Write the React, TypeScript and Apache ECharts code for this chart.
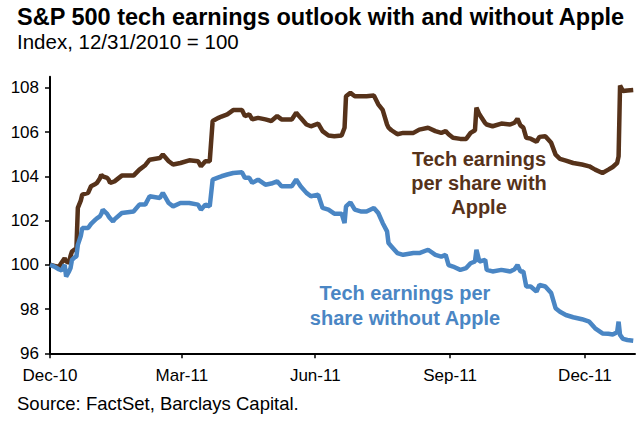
import React, { useEffect, useRef } from "react";
import * as echarts from "echarts";

const dates = [
  "2010-12-31", "2011-01-03", "2011-01-06", "2011-01-08", "2011-01-10", "2011-01-11", "2011-01-13", "2011-01-14",
  "2011-01-15", "2011-01-17", "2011-01-18", "2011-01-19", "2011-01-21", "2011-01-22", "2011-01-26", "2011-01-28",
  "2011-01-31", "2011-02-01", "2011-02-03", "2011-02-04", "2011-02-05", "2011-02-08", "2011-02-09", "2011-02-10",
  "2011-02-12", "2011-02-13", "2011-02-18", "2011-02-26", "2011-03-02", "2011-03-06", "2011-03-09", "2011-03-16",
  "2011-03-18", "2011-03-22", "2011-03-25", "2011-03-30", "2011-04-05", "2011-04-11", "2011-04-13", "2011-04-16",
  "2011-04-19", "2011-04-21", "2011-04-25", "2011-04-27", "2011-05-01", "2011-05-05", "2011-05-11", "2011-05-13",
  "2011-05-16", "2011-05-18", "2011-05-22", "2011-05-27", "2011-05-31", "2011-06-04", "2011-06-07", "2011-06-14",
  "2011-06-17", "2011-06-20", "2011-06-24", "2011-06-27", "2011-07-02", "2011-07-05", "2011-07-09", "2011-07-13",
  "2011-07-18", "2011-07-20", "2011-07-21", "2011-07-24", "2011-07-27", "2011-07-31", "2011-08-04", "2011-08-09",
  "2011-08-12", "2011-08-15", "2011-08-18", "2011-08-19", "2011-08-21", "2011-08-25", "2011-08-29", "2011-09-05",
  "2011-09-09", "2011-09-15", "2011-09-20", "2011-09-24", "2011-09-27", "2011-09-29", "2011-10-02", "2011-10-07",
  "2011-10-11", "2011-10-14", "2011-10-17", "2011-10-18", "2011-10-20", "2011-10-24", "2011-10-25", "2011-10-29",
  "2011-11-04", "2011-11-10", "2011-11-13", "2011-11-15", "2011-11-17", "2011-11-19", "2011-11-21", "2011-11-24",
  "2011-11-28", "2011-11-30", "2011-12-04", "2011-12-08", "2011-12-11", "2011-12-14", "2011-12-18", "2011-12-23",
  "2011-12-29", "2012-01-03", "2012-01-07", "2012-01-12", "2012-01-16", "2012-01-19", "2012-01-22", "2012-01-23",
  "2012-01-24", "2012-01-26", "2012-01-29", "2012-02-02",
];

const withApple = [
  100.0, 99.95, 99.9, 100.1, 100.3, 100.15, 100.1, 100.4,
  100.6, 100.7, 100.7, 102.57, 102.9, 103.17, 103.25, 103.55,
  103.65, 103.7, 103.9, 104.07, 104.0, 103.93, 103.85, 103.7,
  103.75, 103.77, 104.03, 104.03, 104.3, 104.5, 104.75, 104.83,
  104.98, 104.68, 104.53, 104.6, 104.72, 104.68, 104.45, 104.68,
  104.68, 106.5, 106.64, 106.7, 106.8, 106.99, 106.99, 106.72,
  106.8, 106.57, 106.64, 106.57, 106.5, 106.72, 106.57, 106.57,
  106.87, 106.64, 106.34, 106.26, 106.38, 106.04, 105.84, 105.81,
  105.84, 106.19, 107.62, 107.77, 107.62, 107.62, 107.62, 107.65,
  107.25, 107.0, 106.34, 106.2, 106.08, 105.9, 105.96, 105.96,
  106.11, 106.19, 106.04, 105.96, 106.04, 105.9, 105.74, 105.69,
  105.69, 105.96, 106.08, 107.1, 106.8, 106.4, 106.34, 106.26,
  106.38, 106.34, 106.42, 106.6, 106.3, 106.2, 105.74, 105.7,
  105.56, 105.78, 105.81, 105.51, 104.98, 104.79, 104.71, 104.6,
  104.53, 104.45, 104.3, 104.15, 104.3, 104.42, 104.6, 104.9,
  108.1, 107.85, 107.88, 107.9,
];

const withoutApple = [
  100.0, 99.92, 99.8, 99.74, 100.0, 99.47, 99.7, 99.85,
  100.22, 100.35, 100.37, 100.9, 101.3, 101.66, 101.66, 101.85,
  102.04, 102.1, 102.19, 102.3, 102.49, 102.3, 102.19, 102.1,
  101.96, 102.05, 102.34, 102.41, 102.72, 102.72, 103.1, 103.02,
  103.25, 102.79, 102.64, 102.79, 102.79, 102.72, 102.49, 102.72,
  102.64, 103.85, 103.95, 104.0, 104.08, 104.15, 104.18, 103.93,
  103.93, 103.7, 103.85, 103.62, 103.67, 103.77, 103.55, 103.55,
  103.85, 103.55, 103.25, 103.1, 103.17, 102.57, 102.49, 102.31,
  102.31, 101.89, 102.64, 102.82, 102.49, 102.41, 102.41, 102.57,
  102.34, 101.89, 101.51, 100.98, 100.83, 100.53, 100.45, 100.53,
  100.53, 100.68, 100.45, 100.37, 100.45, 99.99, 99.92, 99.77,
  99.85, 100.07, 100.15, 100.68, 100.15, 100.22, 99.77, 99.7,
  99.77, 99.7, 99.8, 99.99, 99.7, 99.7, 99.02, 99.02,
  98.79, 99.09, 99.02, 98.72, 98.04, 97.88, 97.73, 97.63,
  97.54, 97.43, 97.13, 96.9, 96.88, 96.85, 96.95, 97.43,
  96.83, 96.65, 96.6, 96.57,
];

const tickDates = ["2010-12-31", "2011-03-31", "2011-06-30", "2011-09-30", "2011-12-31"];
const tickLabels = ["Dec-10", "Mar-11", "Jun-11", "Sep-11", "Dec-11"];
const yTicks = [96, 98, 100, 102, 104, 106, 108];

const BROWN = "#56321a";
const BLUE = "#4a86c4";
const FONT = "'Liberation Sans', Arial, sans-serif";
const DAY = 86400000;

function toTs(s: string): number {
  const [y, m, d] = s.split("-").map(Number);
  return Date.UTC(y, m - 1, d);
}
const baseTs = toTs(tickDates[0]);
function toDay(s: string): number {
  return Math.round((toTs(s) - baseTs) / DAY);
}

export default function App() {
  const ref = useRef<HTMLDivElement>(null);

  useEffect(() => {
    document.body.style.margin = "0";
    if (!ref.current) return;
    const chart = echarts.init(ref.current, undefined, { renderer: "svg" });
    const tickDays = tickDates.map(toDay);

    chart.setOption({
      animation: false,
      grid: { left: 50, right: 6, top: 76.7, bottom: 69.7, outerBoundsMode: "none" },
      xAxis: {
        type: "value",
        min: 0,
        max: 399.2,
        axisLine: { show: true, lineStyle: { color: "#000", width: 2 } },
        axisTick: { show: true, customValues: tickDays, length: 5, lineStyle: { color: "#000", width: 1.5 } },
        axisLabel: {
          customValues: tickDays,
          margin: 14,
          color: "#000",
          fontSize: 17,
          fontFamily: FONT,
          formatter: (v: number) => {
            const i = tickDays.findIndex((t) => Math.abs(t - v) < 0.5);
            return i >= 0 ? tickLabels[i] : "";
          },
        },
        splitLine: { show: false },
      },
      yAxis: {
        type: "value",
        min: 96,
        max: 108.5,
        interval: 2,
        axisLine: { show: true, lineStyle: { color: "#000", width: 2 } },
        axisTick: { show: true, customValues: yTicks, length: 5, lineStyle: { color: "#000", width: 1.5 } },
        axisLabel: {
          customValues: yTicks,
          margin: 11,
          color: "#000",
          fontSize: 17,
          fontFamily: FONT,
        },
        splitLine: { show: false },
      },
      series: [
        {
          name: "Tech earnings per share with Apple",
          type: "line",
          showSymbol: false,
          data: dates.map((d, i) => [toDay(d), withApple[i]]),
          lineStyle: { color: BROWN, width: 4.5 },
          itemStyle: { color: BROWN },
          z: 2,
        },
        {
          name: "Tech earnings per share without Apple",
          type: "line",
          showSymbol: false,
          data: dates.map((d, i) => [toDay(d), withoutApple[i]]),
          lineStyle: { color: BLUE, width: 4.5 },
          itemStyle: { color: BLUE },
          z: 3,
        },
      ],
      graphic: [
        {
          type: "text",
          left: 17,
          top: 5,
          style: { text: "S&P 500 tech earnings outlook with and without Apple", fill: "#000", font: `bold 23.5px ${FONT}` },
        },
        {
          type: "text",
          left: 17,
          top: 31,
          style: { text: "Index, 12/31/2010 = 100", fill: "#000", font: `20.5px ${FONT}` },
        },
        {
          type: "text",
          left: 17,
          top: 394,
          style: { text: "Source: FactSet, Barclays Capital.", fill: "#000", font: `18.5px ${FONT}` },
        },
        {
          type: "text",
          x: 479,
          y: 147,
          style: {
            text: "Tech earnings\nper share with\nApple",
            fill: BROWN,
            font: `bold 20px ${FONT}`,
            align: "center",
            lineHeight: 24,
          },
        },
        {
          type: "text",
          x: 405,
          y: 280,
          style: {
            text: "Tech earnings per\nshare without Apple",
            fill: BLUE,
            font: `bold 20px ${FONT}`,
            align: "center",
            lineHeight: 25,
          },
        },
      ],
    });
    return () => chart.dispose();
  }, []);

  return <div ref={ref} style={{ width: 641, height: 423 }} />;
}
